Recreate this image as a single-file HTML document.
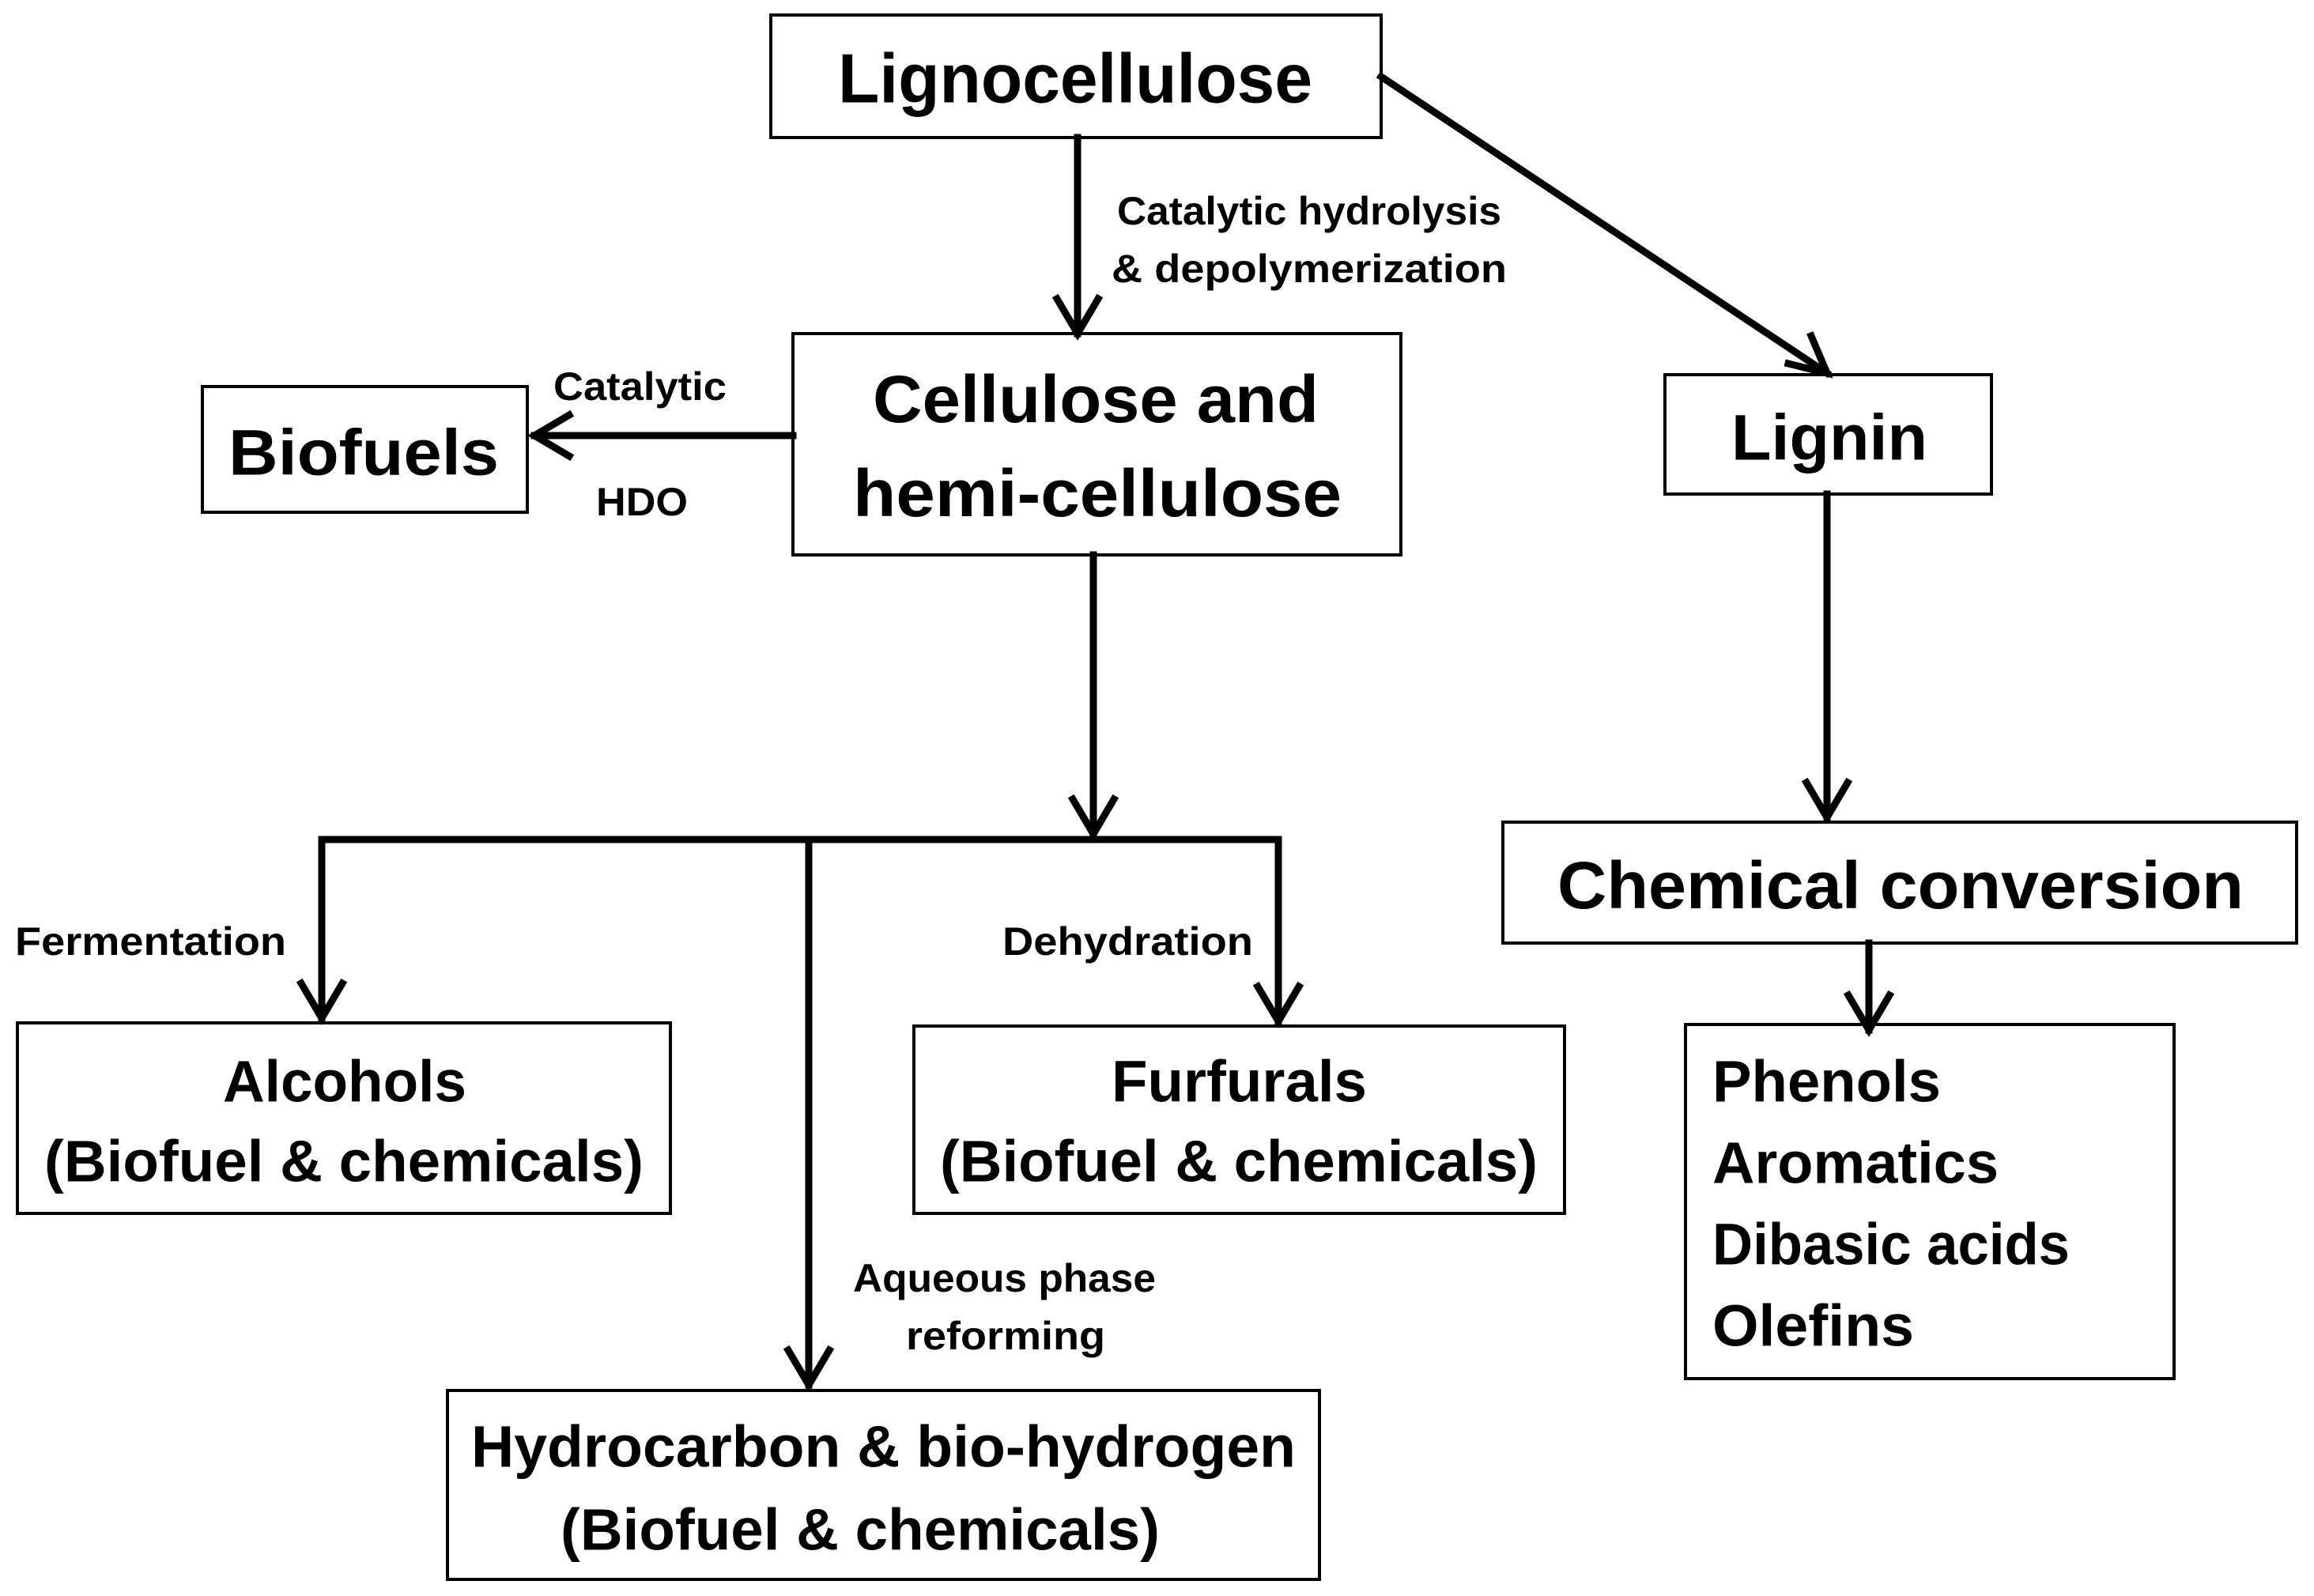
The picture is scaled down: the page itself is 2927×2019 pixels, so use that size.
<!DOCTYPE html>
<html><head><meta charset="utf-8"><style>
html,body{margin:0;padding:0;background:#fff}
svg{display:block}
text{font-family:"Liberation Sans",sans-serif;font-weight:bold;fill:#000;dominant-baseline:central}
</style></head><body>
<svg width="2927" height="2019" viewBox="0 0 2927 2019" xmlns="http://www.w3.org/2000/svg">
<g fill="none" stroke="#000" stroke-width="4">
<rect x="975" y="19" width="772" height="155"/>
<rect x="1003" y="422" width="769" height="280"/>
<rect x="256" y="489" width="411" height="159"/>
<rect x="2106" y="474" width="413" height="151"/>
<rect x="1901" y="1040" width="1004" height="153"/>
<rect x="2132" y="1296" width="618" height="448"/>
<rect x="22" y="1294" width="826" height="241"/>
<rect x="1156" y="1298" width="823" height="237"/>
<rect x="566" y="1759" width="1103" height="239"/>
</g>
<g fill="none" stroke="#000" stroke-width="9" stroke-linecap="square">
<line x1="1363" y1="174" x2="1363" y2="422"/>
<polyline points="1337,378 1363,422 1389,378"/>
<line x1="1747" y1="97" x2="2311" y2="472"/>
<polyline points="2262,460 2311,472 2291,425"/>
<line x1="1003" y1="551" x2="676" y2="551"/>
<polyline points="720,525 676,551 720,577"/>
<line x1="1383" y1="702" x2="1383" y2="1055"/>
<polyline points="1357,1011 1383,1055 1409,1011"/>
<line x1="407" y1="1062" x2="1609" y2="1062"/>
<line x1="407" y1="1062" x2="407" y2="1288"/>
<polyline points="381,1244 407,1288 433,1244"/>
<line x1="1023" y1="1062" x2="1023" y2="1752"/>
<polyline points="997,1708 1023,1752 1049,1708"/>
<line x1="1617" y1="1062" x2="1617" y2="1292"/>
<polyline points="1591,1248 1617,1292 1643,1248"/>
<line x1="2311" y1="625" x2="2311" y2="1034"/>
<polyline points="2285,990 2311,1034 2337,990"/>
<line x1="2364" y1="1193" x2="2364" y2="1303"/>
<polyline points="2338,1259 2364,1303 2390,1259"/>
</g>
<text x="1060" y="99" font-size="88" textLength="600" lengthAdjust="spacingAndGlyphs">Lignocellulose</text>
<text x="1104" y="505" font-size="84" textLength="564" lengthAdjust="spacingAndGlyphs">Cellulose and</text>
<text x="1079" y="624" font-size="84" textLength="618" lengthAdjust="spacingAndGlyphs">hemi-cellulose</text>
<text x="289" y="573" font-size="82" textLength="342" lengthAdjust="spacingAndGlyphs">Biofuels</text>
<text x="2190" y="554" font-size="82" textLength="248" lengthAdjust="spacingAndGlyphs">Lignin</text>
<text x="1970" y="1120" font-size="84" textLength="868" lengthAdjust="spacingAndGlyphs">Chemical conversion</text>
<text x="282" y="1368" font-size="74" textLength="308" lengthAdjust="spacingAndGlyphs">Alcohols</text>
<text x="56" y="1469" font-size="74" textLength="758" lengthAdjust="spacingAndGlyphs">(Biofuel &amp; chemicals)</text>
<text x="1406" y="1368" font-size="74" textLength="323" lengthAdjust="spacingAndGlyphs">Furfurals</text>
<text x="1189" y="1469" font-size="74" textLength="756" lengthAdjust="spacingAndGlyphs">(Biofuel &amp; chemicals)</text>
<text x="596" y="1830" font-size="74" textLength="1043" lengthAdjust="spacingAndGlyphs">Hydrocarbon &amp; bio-hydrogen</text>
<text x="709" y="1935" font-size="74" textLength="758" lengthAdjust="spacingAndGlyphs">(Biofuel &amp; chemicals)</text>
<text x="2166" y="1368" font-size="74" textLength="289" lengthAdjust="spacingAndGlyphs">Phenols</text>
<text x="2166" y="1471" font-size="74" textLength="362" lengthAdjust="spacingAndGlyphs">Aromatics</text>
<text x="2166" y="1574" font-size="74" textLength="452" lengthAdjust="spacingAndGlyphs">Dibasic acids</text>
<text x="2166" y="1677" font-size="74" textLength="255" lengthAdjust="spacingAndGlyphs">Olefins</text>
<text x="1413" y="267" font-size="50" textLength="486" lengthAdjust="spacingAndGlyphs">Catalytic hydrolysis</text>
<text x="1406" y="340" font-size="50" textLength="500" lengthAdjust="spacingAndGlyphs">&amp; depolymerization</text>
<text x="700" y="489" font-size="50" textLength="219" lengthAdjust="spacingAndGlyphs">Catalytic</text>
<text x="754" y="635" font-size="50" textLength="116" lengthAdjust="spacingAndGlyphs">HDO</text>
<text x="19" y="1191" font-size="50" textLength="343" lengthAdjust="spacingAndGlyphs">Fermentation</text>
<text x="1268" y="1191" font-size="50" textLength="317" lengthAdjust="spacingAndGlyphs">Dehydration</text>
<text x="1079" y="1617" font-size="50" textLength="383" lengthAdjust="spacingAndGlyphs">Aqueous phase</text>
<text x="1146" y="1690" font-size="50" textLength="252" lengthAdjust="spacingAndGlyphs">reforming</text>
</svg>
</body></html>
